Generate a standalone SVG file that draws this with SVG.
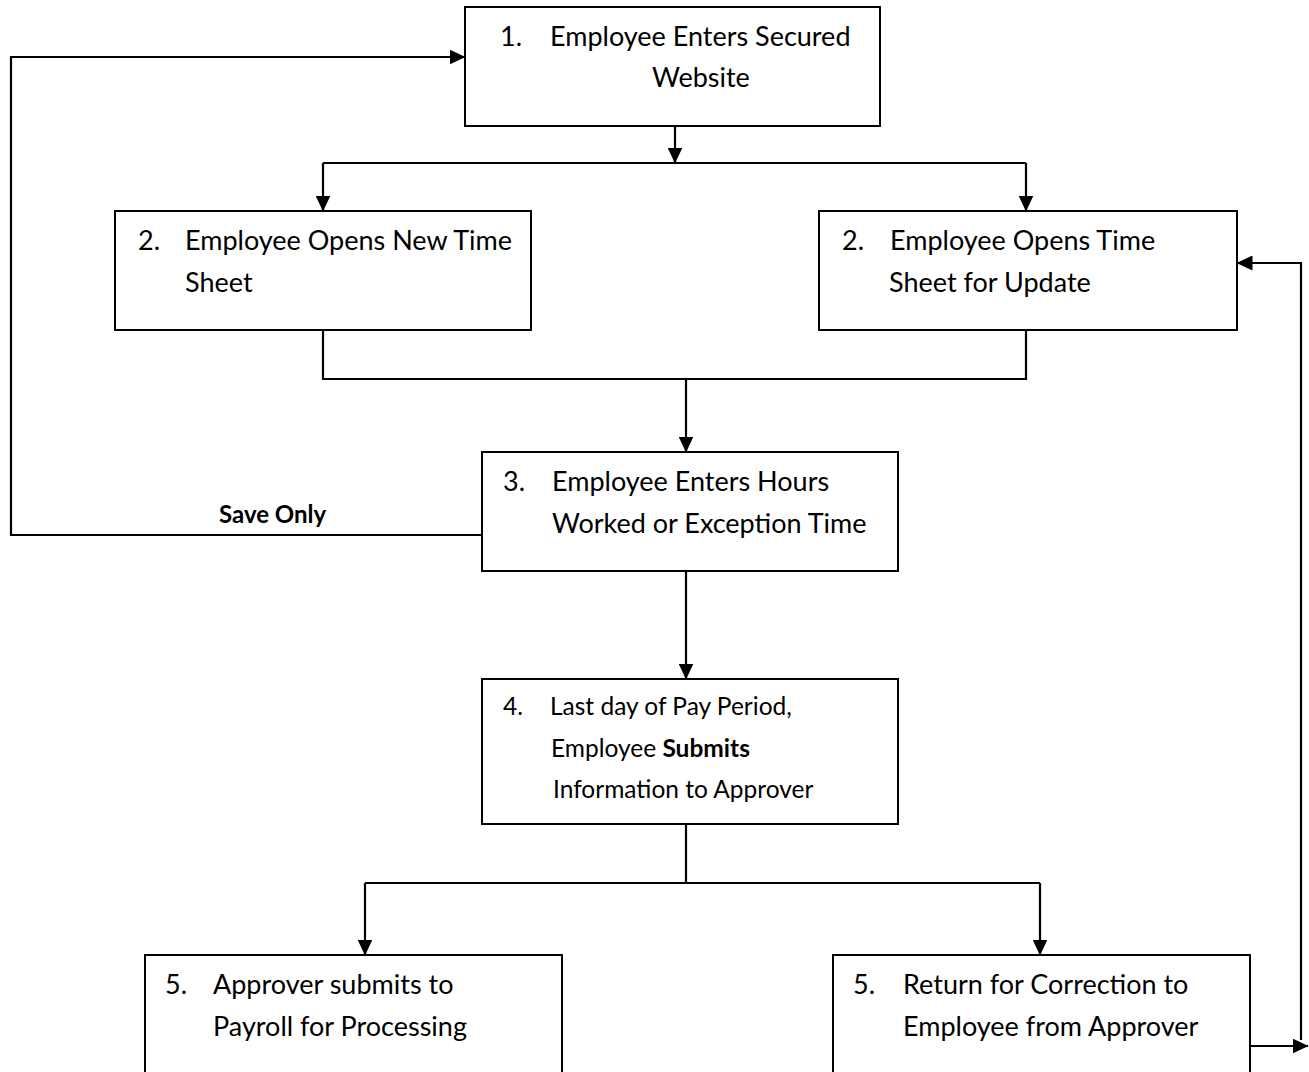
<svg xmlns="http://www.w3.org/2000/svg" width="1309" height="1072" viewBox="0 0 1309 1072">
<defs>
<marker id="ah" markerUnits="userSpaceOnUse" markerWidth="16" markerHeight="15" viewBox="0 0 16 15" refX="15.5" refY="7.5" orient="auto">
<path d="M0,0 L16,7.5 L0,15 Z" fill="#000"/>
</marker>
</defs>
<style>
.box{fill:#fff;stroke:#000;stroke-width:2}
.t{font-family:Lato,"Liberation Sans",sans-serif;font-size:27px;fill:#000}
.s{font-size:24.5px}
.b{font-weight:bold}
.lbl{font-size:24px}
.c{fill:none;stroke:#000;stroke-width:2.2}
</style>
<rect width="1309" height="1072" fill="#fff"/>
<g id="connectors">
<path class="c" d="M675,126 V163" marker-end="url(#ah)"/>
<path class="c" d="M323,163 H1026"/>
<path class="c" d="M323,163 V211" marker-end="url(#ah)"/>
<path class="c" d="M1026,163 V211" marker-end="url(#ah)"/>
<path class="c" d="M323,330 V379 H1026 V330"/>
<path class="c" d="M686,379 V452" marker-end="url(#ah)"/>
<path class="c" d="M482,535 H11 V57 H465" marker-end="url(#ah)"/>
<path class="c" d="M686,571 V679" marker-end="url(#ah)"/>
<path class="c" d="M686,824 V883"/>
<path class="c" d="M365,883 H1040"/>
<path class="c" d="M365,883 V955" marker-end="url(#ah)"/>
<path class="c" d="M1040,883 V955" marker-end="url(#ah)"/>
<path class="c" d="M1250,1046 H1308" marker-end="url(#ah)"/>
<path class="c" d="M1301,1040 V263 H1237" marker-end="url(#ah)"/>
<text class="t b lbl" x="219" y="523">Save Only</text>
</g>
<g id="n1">
<rect class="box" x="465" y="7" width="415" height="119"/>
<text class="t" x="500" y="46">1.</text>
<text class="t" x="550" y="46">Employee Enters Secured</text>
<text class="t" x="652" y="87">Website</text>
</g>
<g id="n2a">
<rect class="box" x="115" y="211" width="416" height="119"/>
<text class="t" x="138" y="250">2.</text>
<text class="t" x="185" y="250">Employee Opens New Time</text>
<text class="t" x="185" y="292">Sheet</text>
</g>
<g id="n2b">
<rect class="box" x="819" y="211" width="418" height="119"/>
<text class="t" x="842" y="250">2.</text>
<text class="t" x="890" y="250">Employee Opens Time</text>
<text class="t" x="889" y="292">Sheet for Update</text>
</g>
<g id="n3">
<rect class="box" x="482" y="452" width="416" height="119"/>
<text class="t" x="503" y="491">3.</text>
<text class="t" x="552" y="491">Employee Enters Hours</text>
<text class="t" x="552" y="533">Worked or Exception Time</text>
</g>
<g id="n4">
<rect class="box" x="482" y="679" width="416" height="145"/>
<text class="t s" x="503" y="715">4.</text>
<text class="t s" x="550" y="715">Last day of Pay Period,</text>
<text class="t s" x="551" y="757">Employee <tspan class="b">Submits</tspan></text>
<text class="t s" x="553" y="798">Information to Approver</text>
</g>
<g id="n5a">
<rect class="box" x="145" y="955" width="417" height="130"/>
<text class="t" x="165" y="994">5.</text>
<text class="t" x="213" y="994">Approver submits to</text>
<text class="t" x="213" y="1036">Payroll for Processing</text>
</g>
<g id="n5b">
<rect class="box" x="833" y="955" width="417" height="130"/>
<text class="t" x="853" y="994">5.</text>
<text class="t" x="903" y="994">Return for Correction to</text>
<text class="t" x="903" y="1036">Employee from Approver</text>
</g>
</svg>
